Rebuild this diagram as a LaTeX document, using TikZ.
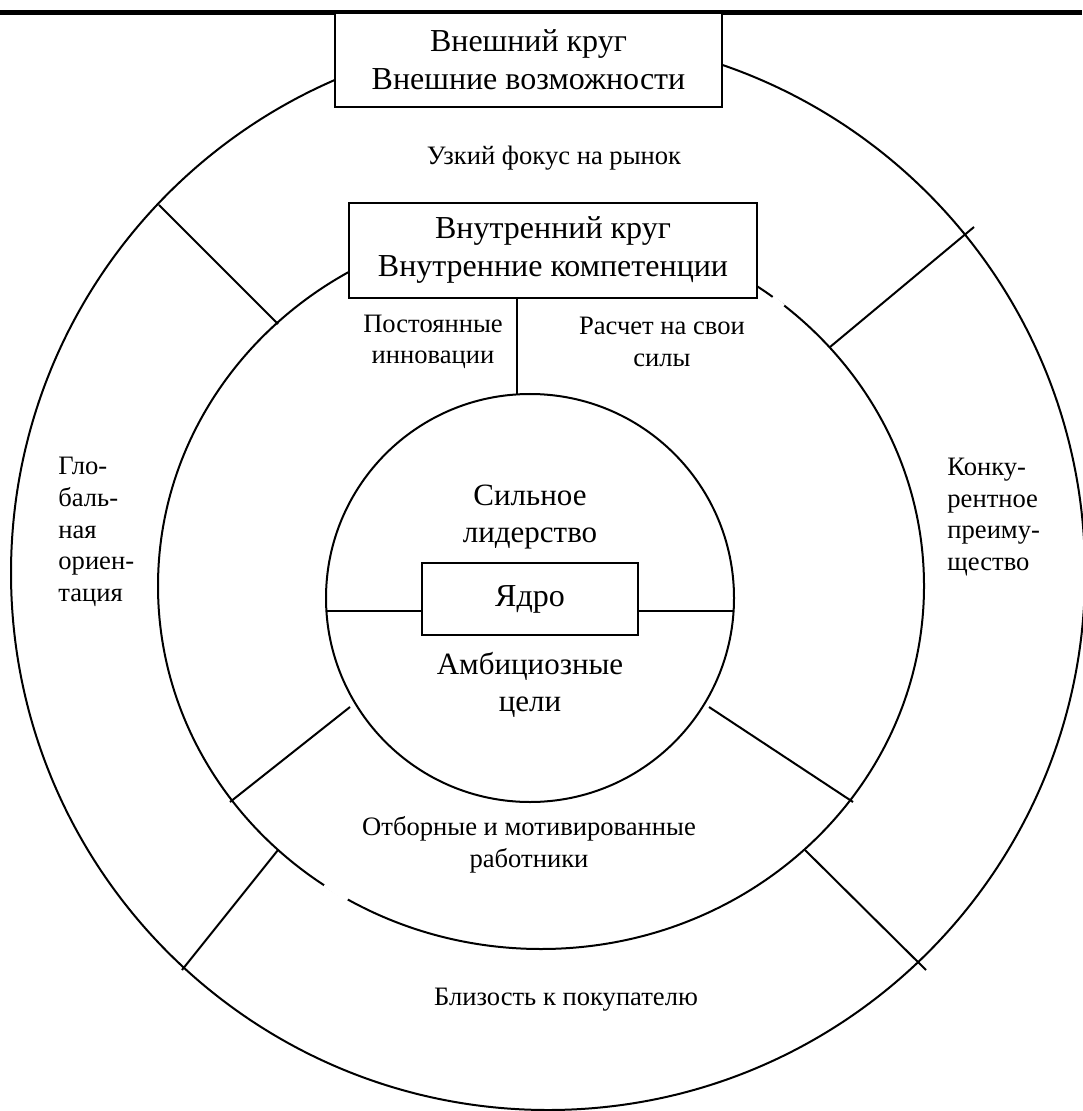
\documentclass[tikz,border=0pt]{standalone}
\usepackage{fontspec}
\setmainfont{Liberation Serif}
\tikzset{
  ring/.style={line width=1pt},
  gap/.style={white, line width=3pt},
  box/.style={draw, fill=white, line width=1.2pt, inner sep=0pt, align=center, font=\fontsize{16}{19}\selectfont},
  lbl/.style={align=center, inner sep=0pt, font=\fontsize{13.3}{15.8}\selectfont},
  biglbl/.style={align=center, inner sep=0pt, font=\fontsize{15.5}{18.5}\selectfont}
}
\begin{document}
\begin{tikzpicture}[x=0.5pt,y=-0.5pt]
\useasboundingbox (0,0) rectangle (1082,1111);
% rule under the heading
\draw[line width=2.5pt] (0,12.5) -- (1082,12.5);
% the three circles
\draw[ring] (548,573) circle (537);
\draw[ring] (541,586) ellipse (383 and 363);
\draw[ring] (530,598) circle (204);
% ends of the dividing lines
\coordinate (o1a) at (159,205); \coordinate (o1b) at (278,324);
\coordinate (o2a) at (974,227); \coordinate (o2b) at (830,347);
\coordinate (o3a) at (182,970); \coordinate (o3b) at (278,850);
\coordinate (o4a) at (926,970); \coordinate (o4b) at (805,850);
\coordinate (m1a) at (230,802); \coordinate (m1b) at (350,707);
\coordinate (m2a) at (853,802); \coordinate (m2b) at (709,707);
\draw[ring] (o1a) -- (o1b);
\draw[ring] (o2a) -- (o2b);
\draw[ring] (o3a) -- (o3b);
\draw[ring] (o4a) -- (o4b);
\draw[ring] (m1a) -- (m1b);
\draw[ring] (m2a) -- (m2b);
% breaks in the middle ring
\draw[gap] (772,298) -- (783,307);
\draw[gap] (325,884) -- (348,899);
% boxes
\node[box, minimum width=193.5pt, minimum height=47pt] (outbox) at (528.5,60) {Внешний круг\\Внешние возможности};
\node[box, minimum width=204pt, minimum height=47.5pt] (inbox) at (553,250.5) {Внутренний круг\\Внутренние компетенции};
\node[box, minimum width=108pt, minimum height=36pt] (core) at (530,599) {Ядро};
% lines to the boxes
\coordinate (itop) at (517,394.5);
\coordinate (cl) at (326.4,611);
\coordinate (cr) at (733.6,611);
\draw[ring] (itop |- inbox.south) -- (itop);
\draw[ring] (cl) -- (cl -| core.west);
\draw[ring] (core.east |- cr) -- (cr);
% labels
\node[lbl] (narrow) at (554,158) {Узкий фокус на рынок};
\node[lbl] (innov) at (433,342) {Постоянные\\инновации};
\node[lbl] (self) at (662,342) {Расчет на свои\\силы};
\node[lbl, align=left, anchor=west] (global) at (58,532) {Гло-\\баль-\\ная\\ориен-\\тация};
\node[lbl, align=left, anchor=west] (compet) at (947,517) {Конку-\\рентное\\преиму-\\щество};
\node[biglbl] (lead) at (530,517) {Сильное\\лидерство};
\node[biglbl] (goals) at (530,685) {Амбициозные\\цели};
\node[lbl] (staff) at (529,845) {Отборные и мотивированные\\работники};
\node[lbl] (cust) at (566,1000) {Близость к покупателю};
\end{tikzpicture}
\end{document}
